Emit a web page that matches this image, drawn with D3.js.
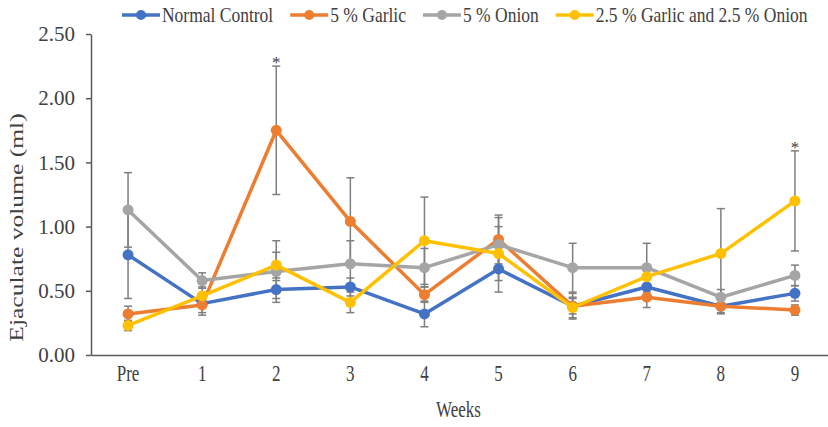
<!DOCTYPE html>
<html lang="en">
<head>
<meta charset="UTF-8">
<title>Ejaculate volume</title>
<style>
  body { margin: 0; background: #fff; }
  svg text { font-family: "Liberation Serif", "Times New Roman", serif; fill: #404040; }
</style>
</head>
<body>
<div id="chart"></div>
<script src="https://d3js.org/d3.v7.min.js"></script>
<script>
const weeks = ["Pre", "1", "2", "3", "4", "5", "6", "7", "8", "9"];
const seriesNames = ["Normal Control", "5 % Garlic", "5 % Onion", "2.5 % Garlic and 2.5 % Onion"];
const seriesColors = ["#4472C4", "#ED7D31", "#A5A5A5", "#FFC000"];

const normal = [0.78, 0.40, 0.51, 0.53, 0.32, 0.67, 0.38, 0.53, 0.38, 0.48];
const garlic = [0.32, 0.39, 1.75, 1.04, 0.47, 0.90, 0.38, 0.45, 0.38, 0.35];
const onion  = [1.13, 0.58, 0.65, 0.71, 0.68, 0.86, 0.68, 0.68, 0.45, 0.62];
const mix    = [0.23, 0.46, 0.70, 0.41, 0.89, 0.79, 0.37, 0.61, 0.79, 1.20];

const normalErr = [0.34, 0.07, 0.07, 0.07, 0.10, 0.18, 0.10, 0.06, 0.05, 0.06];
const garlicErr = [0.06, 0.08, 0.50, 0.34, 0.06, 0.19, 0.06, 0.08, 0.06, 0.04];
const onionErr  = [0.29, 0.06, 0.24, 0.18, 0.15, 0.21, 0.19, 0.19, 0.06, 0.08];
const mixErr    = [0.04, 0.07, 0.10, 0.08, 0.34, 0.21, 0.08, 0.06, 0.35, 0.39];

const yTicks = [0, 0.5, 1.0, 1.5, 2.0, 2.5];
const starWeeks = ["2", "9"];
const starSeries = [1, 3];

const values = [normal, garlic, onion, mix];
const errors = [normalErr, garlicErr, onionErr, mixErr];

const width = 828, height = 427;
const serif = "'Liberation Serif', 'Times New Roman', serif";
const svg = d3.select("#chart").append("svg").attr("width", width).attr("height", height);

const x = d3.scaleBand().domain(weeks).range([91, 832]);
const y = d3.scaleLinear().domain([0, 2.5]).range([355, 34]);
const cx = w => x(w) + x.bandwidth() / 2;

// y axis
const yAxis = svg.append("g").attr("transform", "translate(91,0)")
    .call(d3.axisLeft(y).tickValues(yTicks).tickFormat(d3.format(".2f")).tickSize(5).tickSizeOuter(0).tickPadding(11));
yAxis.attr("font-family", null);
yAxis.select(".domain").attr("stroke", "#595959").attr("stroke-width", 1.5);
yAxis.selectAll(".tick line").attr("stroke", "#595959").attr("stroke-width", 1.5);
yAxis.selectAll(".tick text").style("font-size", "21px").style("font-family", serif).attr("fill", "#404040");

// x axis
const xAxis = svg.append("g").attr("transform", "translate(0,355)")
    .call(d3.axisBottom(x).tickSize(0).tickSizeOuter(0));
xAxis.attr("font-family", null);
xAxis.select(".domain").attr("stroke", "#595959").attr("stroke-width", 1.5);
xAxis.selectAll(".tick text")
    .style("font-size", "17px").style("font-family", serif).attr("fill", "#404040")
    .attr("y", 26 / 1.3).attr("dy", 0).attr("transform", "scale(1,1.3)");

// axis titles
svg.append("text")
    .attr("transform", "translate(23," + ((34 + 355) / 2 + 33) + ") rotate(-90) scale(1.42,1)")
    .attr("text-anchor", "middle").style("font-size", "18px").style("font-family", serif)
    .text("Ejaculate volume (ml)");
svg.append("text")
    .attr("transform", "translate(" + ((91 + 832) / 2 - 3) + ",417) scale(1,1.3)")
    .attr("text-anchor", "middle").style("font-size", "17px").style("font-family", serif)
    .text("Weeks");

// error bars (drawn beneath the lines)
const errG = svg.append("g");
values.forEach((vals, s) => {
  vals.forEach((v, i) => {
    const px = cx(weeks[i]);
    const lo = y(v - errors[s][i]), hi = y(v + errors[s][i]);
    errG.append("line").attr("x1", px).attr("x2", px).attr("y1", lo).attr("y2", hi)
        .attr("stroke", "#7F7F7F").attr("stroke-width", 1.5);
    [lo, hi].forEach(yy => errG.append("line")
        .attr("x1", px - 4).attr("x2", px + 4).attr("y1", yy).attr("y2", yy)
        .attr("stroke", "#7F7F7F").attr("stroke-width", 1.5));
  });
});

// lines + markers
const line = d3.line().x((d, i) => cx(weeks[i])).y(d => y(d));
values.forEach((vals, s) => {
  svg.append("path").datum(vals).attr("d", line)
      .attr("fill", "none").attr("stroke", seriesColors[s]).attr("stroke-width", 3.5)
      .attr("stroke-linejoin", "round");
  svg.append("g").selectAll("circle").data(vals).join("circle")
      .attr("cx", (d, i) => cx(weeks[i])).attr("cy", d => y(d)).attr("r", 5.5)
      .attr("fill", seriesColors[s]);
});

// significance stars
starWeeks.forEach((w, k) => {
  const i = weeks.indexOf(w), s = starSeries[k];
  svg.append("text")
      .attr("x", cx(w)).attr("y", y(values[s][i] + errors[s][i]) + 2)
      .attr("text-anchor", "middle").style("font-size", "17px").style("font-family", serif)
      .attr("fill", "#44546A").text("*");
});

// legend
let lx = 122;
seriesNames.forEach((name, s) => {
  const g = svg.append("g").attr("transform", "translate(" + lx + ",15)");
  g.append("line").attr("x1", 0).attr("x2", 38).attr("stroke", seriesColors[s]).attr("stroke-width", 3.5);
  g.append("circle").attr("cx", 19).attr("r", 5).attr("fill", seriesColors[s]);
  const t = g.append("text").attr("x", 40).attr("y", 6).style("font-size", "17.5px")
      .style("font-family", serif).attr("transform", "scale(1,1.15)").text(name);
  lx += 40 + t.node().getComputedTextLength() + 17;
});
</script>
</body>
</html>
